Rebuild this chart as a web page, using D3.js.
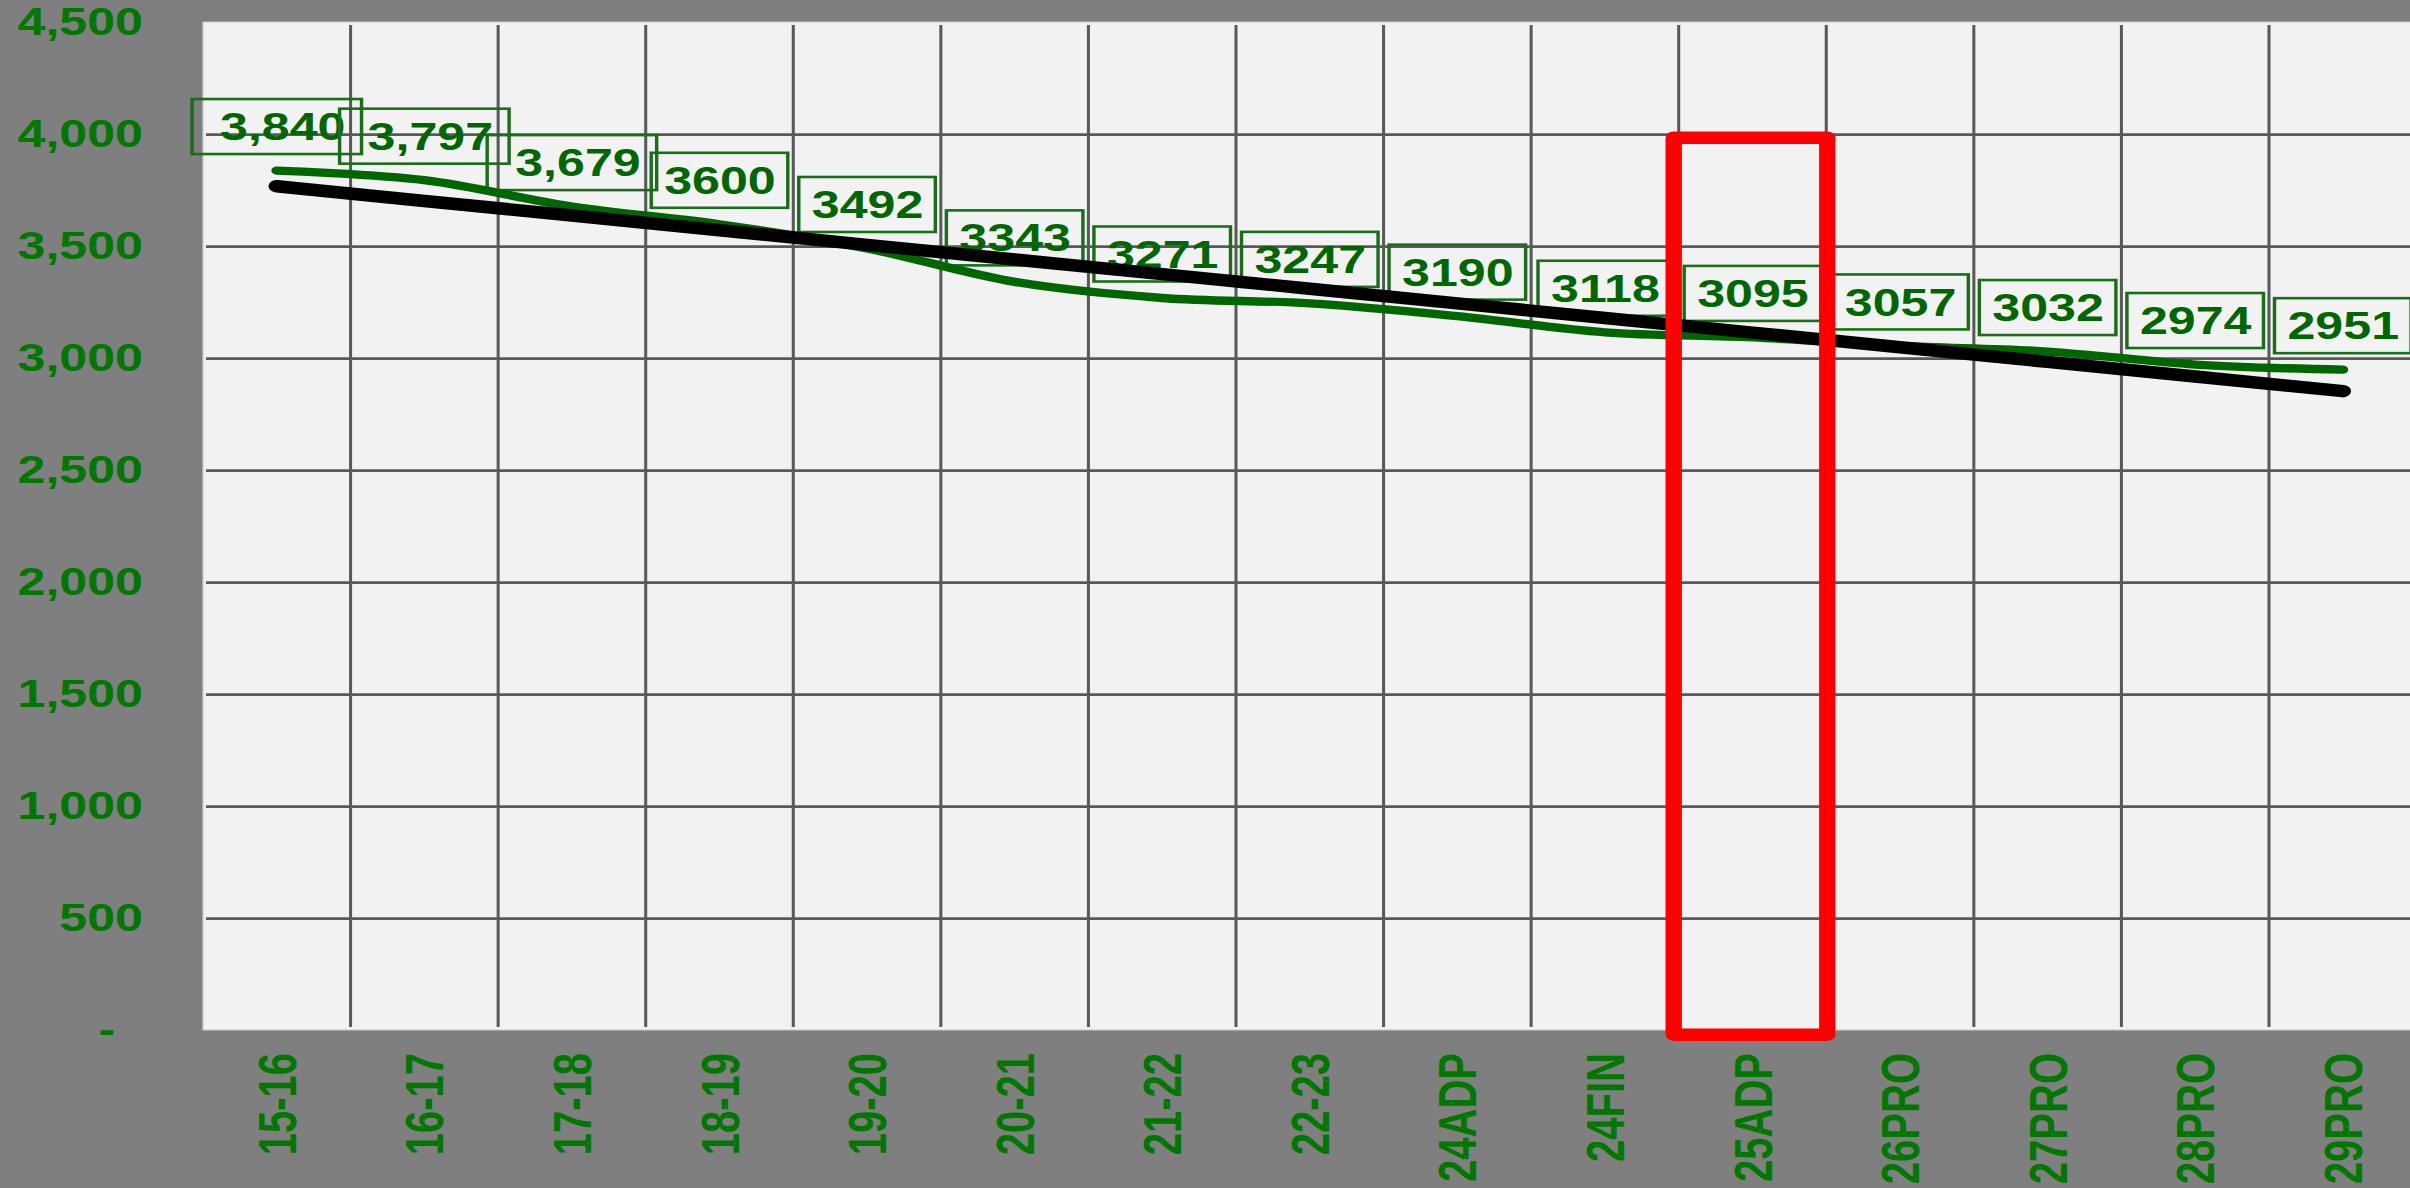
<!DOCTYPE html>
<html>
<head>
<meta charset="utf-8">
<script src="https://cdn.jsdelivr.net/npm/d3@7"></script>
<style>
  html, body { margin: 0; padding: 0; background: #7f7f7f; overflow: hidden; }
  svg { display: block; font-family: "Liberation Sans", Arial, sans-serif; font-weight: bold; }
</style>
</head>
<body>
<svg id="chart" width="2410" height="1188"></svg>
<script>
// Categories (school years / budget stages)
const categories = ["15-16", "16-17", "17-18", "18-19", "19-20", "20-21", "21-22", "22-23",
                    "24ADP", "24FIN", "25ADP", "26PRO", "27PRO", "28PRO", "29PRO"];
// Enrollment values
const values = [3840, 3797, 3679, 3600, 3492, 3343, 3271, 3247,
                3190, 3118, 3095, 3057, 3032, 2974, 2951];
// Value labels as printed above each point
const valueLabels = ["3,840", "3,797", "3,679", "3600", "3492", "3343", "3271", "3247",
                     "3190", "3118", "3095", "3057", "3032", "2974", "2951"];
// Y axis ticks and their printed text
const yTicks = [0, 500, 1000, 1500, 2000, 2500, 3000, 3500, 4000, 4500];
const yTickLabels = ["-\u00a0\u00a0", "500", "1,000", "1,500", "2,000", "2,500", "3,000", "3,500", "4,000", "4,500"];
// Highlighted category
const highlight = "25ADP";

const W = 2410, H = 1188;
const SX = 1.32;              // the whole drawing is widened horizontally
const Wi = W / SX;

const svg = d3.select("#chart");
const g = svg.append("g").attr("transform", `scale(${SX},1)`);

const plotLeft = 203 / SX, bandW = 147.57 / SX;
const x = d3.scaleBand().domain(categories)
  .range([plotLeft, plotLeft + bandW * categories.length]).padding(0);
const y = d3.scaleLinear().domain([0, 4500]).range([1030.7, 22.7]);
const cx = d => x(d) + x.bandwidth() / 2;

// plot area
g.append("rect")
  .attr("x", plotLeft).attr("y", 22)
  .attr("width", Wi - plotLeft + 10).attr("height", 1030 - 22)
  .attr("fill", "#f2f2f2").attr("stroke", "#c8c8c8").attr("stroke-width", 1);

// horizontal grid
g.append("g").selectAll("line")
  .data(yTicks.filter(t => t > 0 && t < 4500))
  .join("line")
  .attr("x1", 206 / SX).attr("x2", Wi + 10)
  .attr("y1", d => y(d)).attr("y2", d => y(d))
  .attr("stroke", "#595959").attr("stroke-width", 2.7);

// vertical grid at category boundaries
g.append("g").selectAll("line")
  .data(categories.slice(1))
  .join("line")
  .attr("x1", d => x(d)).attr("x2", d => x(d))
  .attr("y1", 25).attr("y2", 1027)
  .attr("stroke", "#595959").attr("stroke-width", 2.3);

// y axis labels
const yAxis = g.append("g")
  .attr("transform", `translate(${143 / SX},0)`)
  .call(d3.axisLeft(y).tickValues(yTicks)
    .tickFormat((d, i) => yTickLabels[i]).tickSize(0).tickPadding(0));
yAxis.select(".domain").remove();
yAxis.selectAll("text")
  .attr("fill", "#007800").style("font-size", "38px")
  .style("font-family", "'Liberation Sans', Arial, sans-serif").style("font-weight", "bold");

// x axis labels (rotated)
const xAxis = g.append("g")
  .attr("transform", "translate(0,1053)")
  .call(d3.axisBottom(x).tickSize(0).tickPadding(0));
xAxis.select(".domain").remove();
xAxis.selectAll("text")
  .attr("x", 0).attr("y", 0).attr("dy", "0.36em")
  .attr("transform", "rotate(-90)")
  .style("text-anchor", "end")
  .attr("fill", "#007800").style("font-size", "40px")
  .style("font-family", "'Liberation Sans', Arial, sans-serif").style("font-weight", "bold");

// value labels in outlined boxes
const labelFont = 38, boxH = 55, lift = 44;
const lbl = g.append("g").selectAll("g")
  .data(categories.map((c, i) => ({ c, v: values[i], t: valueLabels[i] })))
  .join("g");
lbl.each(function (d) {
  const grp = d3.select(this);
  const midY = y(d.v) - lift;
  const txt = grp.append("text")
    .attr("y", midY + labelFont * 0.716 / 2)
    .attr("fill", "#006600")
    .style("font-size", labelFont + "px")
    .text(d.t);
  const tw = txt.node().getComputedTextLength();
  const wide = d.t.includes(",");
  const padL = (wide ? 28 : 13) / SX, padR = (wide ? 16 : 12) / SX;
  const bw = tw + padL + padR;
  const left = cx(d.c) - bw / 2;
  txt.attr("x", left + padL);
  grp.insert("rect", "text")
    .attr("x", left).attr("y", midY - boxH / 2)
    .attr("width", bw).attr("height", boxH)
    .attr("fill", "none").attr("stroke", "#1a6e1a").attr("stroke-width", 2.6);
});

// smoothed series line
const line = d3.line()
  .x((d, i) => cx(categories[i]))
  .y(d => y(d))
  .curve(d3.curveCardinal.tension(0));
g.append("path")
  .attr("d", line(values))
  .attr("fill", "none").attr("stroke", "#006600")
  .attr("stroke-width", 8.3).attr("stroke-linecap", "round");

// linear trend (least squares over the series)
const n = values.length;
const mx = d3.mean(values, (d, i) => i), my = d3.mean(values);
const slope = d3.sum(values, (d, i) => (i - mx) * (d - my)) / d3.sum(values, (d, i) => (i - mx) ** 2);
const trend = values.map((d, i) => my + slope * (i - mx));
g.append("path")
  .attr("d", d3.line().x((d, i) => cx(categories[i])).y(d => y(d))(trend))
  .attr("fill", "none").attr("stroke", "#000")
  .attr("stroke-width", 12.5).attr("stroke-linecap", "round");

// highlight frame around one category
g.append("rect")
  .attr("x", x(highlight) - 5 / SX)
  .attr("y", y(4000) + 3)
  .attr("width", x.bandwidth() + 6 / SX)
  .attr("height", (y(0) + 4) - (y(4000) + 3))
  .attr("fill", "none").attr("stroke", "#ff0000")
  .attr("stroke-width", 12.4).attr("stroke-linejoin", "round");
</script>
</body>
</html>
